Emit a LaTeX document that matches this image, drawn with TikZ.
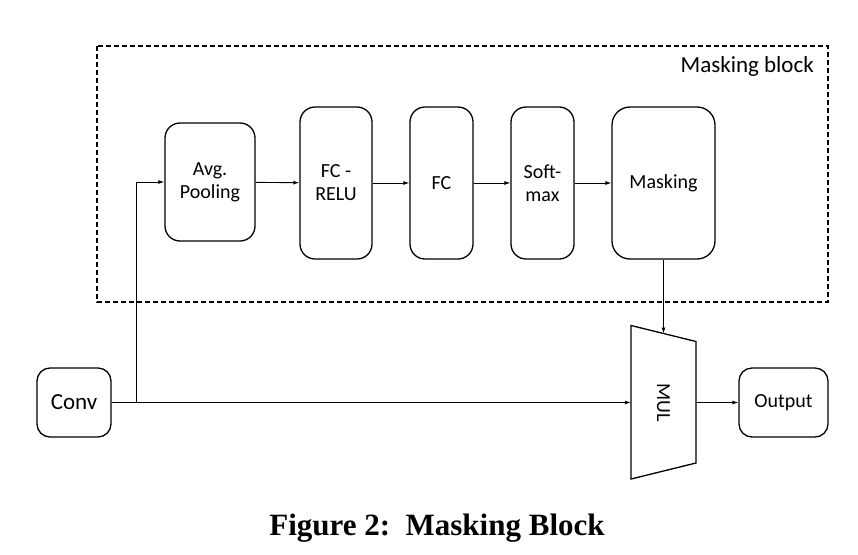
\documentclass[tikz,border=0pt]{standalone}
\usepackage{fontspec}
\setmainfont{Liberation Serif}
\newfontfamily\boxfont{Carlito}
\usetikzlibrary{arrows.meta}
\tikzset{
  blk/.style={draw, line width=1.3pt, rounded corners=15pt, inner sep=0pt, align=center,
    font=\boxfont\fontsize{20}{23}\selectfont},
  con/.style={line width=0.9pt, -{Latex[length=6pt,width=4pt]}},
}
\begin{document}
\begin{tikzpicture}[x=1pt,y=-1pt]
\useasboundingbox (0,0) rectangle (858,554);
% masking block frame
\draw[line width=1.3pt, dash pattern=on 5pt off 3pt] (97,46) rectangle (828,302);
\node[anchor=base east, inner sep=0pt, font=\boxfont\fontsize{23}{26}\selectfont] (lbl) at (814,72) {Masking block};
% stages
\node[blk, minimum width=90pt, minimum height=118pt] (pool) at (210,182) {Avg.\\Pooling};
\node[blk, minimum width=72pt, minimum height=152pt] (fcr) at (336,183) {FC -\\RELU};
\node[blk, minimum width=63pt, minimum height=152pt] (fc) at (441.5,183) {FC};
\node[blk, minimum width=63pt, minimum height=152pt] (soft) at (542.5,183) {Soft-\\max};
\node[blk, minimum width=103pt, minimum height=152pt, rounded corners=18pt] (mask) at (663.5,183) {Masking};
% outside
\node[blk, minimum width=74pt, minimum height=69pt, rounded corners=13pt,
  font=\boxfont\fontsize{23}{26}\selectfont] (conv) at (74,402.5) {Conv};
\node[inner sep=0pt, minimum width=65pt, minimum height=154pt,
  font=\boxfont\fontsize{20}{23}\selectfont] (mul) at (663.5,402.5) {\rotatebox{-90}{MUL}};
\draw[line width=1.3pt] (631,325.5) -- (696,341.5) -- (696,463) -- (631,479) -- cycle;
\node[blk, minimum width=89pt, minimum height=69pt, rounded corners=13pt] (out) at (783.5,402.5) {Output};
\coordinate (split) at (136,402.5);
\coordinate (multop) at (663.5,333.5);
% connectors
\draw[con] (conv.east) -- (mul.west);
\draw[con] (split) |- (pool.west);
\draw[con] (pool) -- (fcr);
\draw[con] (fcr) -- (fc);
\draw[con] (fc) -- (soft);
\draw[con] (soft) -- (mask);
\draw[con] (mask.south) -- (multop);
\draw[con] (mul.east) -- (out.west);
% caption
\node[anchor=base, font=\bfseries\fontsize{31}{34}\selectfont] (cap) at (437,535) {Figure 2:\ \ Masking Block};
\end{tikzpicture}
\end{document}
